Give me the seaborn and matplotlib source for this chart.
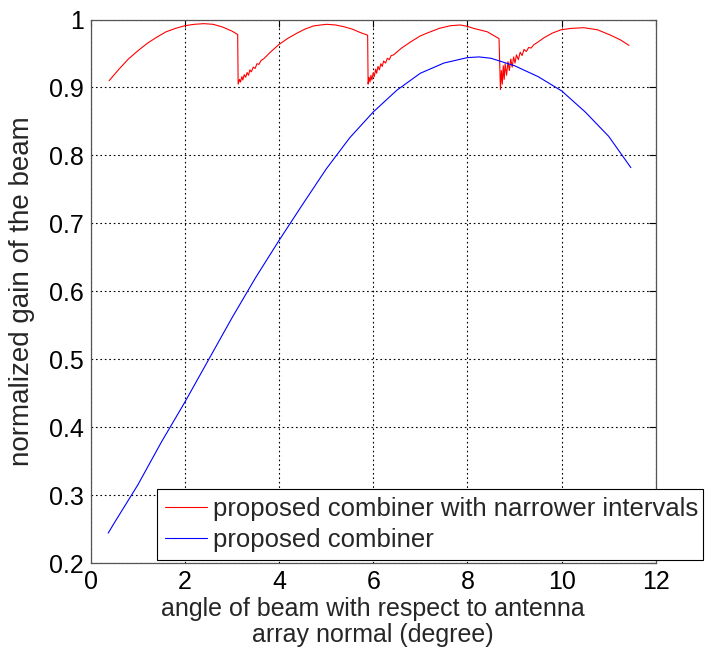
import numpy as np
import pandas as pd
import seaborn as sns
import matplotlib
matplotlib.use("Agg")
import matplotlib.pyplot as plt

# ---- data ----
blue_x = [0.37, 0.5, 1.0, 1.5, 2.0, 2.5, 3.0, 3.5, 4.0, 4.5, 5.0, 5.5, 6.0, 6.5,
          7.0, 7.5, 8.0, 8.25, 8.5, 9.0, 9.5, 10.0, 10.5, 11.0, 11.47]
blue_y = [0.244, 0.259, 0.315, 0.378, 0.437, 0.499, 0.561, 0.620, 0.675, 0.728,
          0.780, 0.826, 0.864, 0.896, 0.921, 0.936, 0.944, 0.945, 0.943, 0.932,
          0.916, 0.895, 0.864, 0.828, 0.782]

red_x = [0.39, 0.6, 0.8, 1.0, 1.2, 1.4, 1.6, 1.8, 2.0, 2.2, 2.4, 2.6, 2.8, 3.0, 3.12,
         3.13, 3.16, 3.18, 3.21, 3.23, 3.26, 3.29, 3.32, 3.35, 3.38, 3.41, 3.45,
         3.49, 3.53, 3.57, 3.62, 3.67, 3.8, 3.99, 4.2, 4.38, 4.55, 4.73, 4.88,
         5.01, 5.2, 5.37, 5.55, 5.72, 5.88,
         5.89, 5.91, 5.93, 5.95, 5.97, 6.0, 6.02, 6.05, 6.07, 6.10, 6.13, 6.16,
         6.19, 6.22, 6.26, 6.30, 6.34, 6.38, 6.43, 6.6, 6.79, 7.0, 7.14, 7.4,
         7.64, 7.85, 8.0, 8.13, 8.42, 8.67,
         8.70, 8.72, 8.74, 8.76, 8.78, 8.80, 8.83, 8.86, 8.89, 8.92, 8.95, 8.98,
         9.01, 9.04, 9.08, 9.12, 9.16, 9.2, 9.25, 9.3, 9.35, 9.41, 9.5, 9.62,
         9.8, 9.99, 10.2, 10.47, 10.76, 11.04, 11.25, 11.43]
red_y = [0.910, 0.927, 0.942, 0.954, 0.965, 0.974, 0.982, 0.987, 0.991, 0.993,
         0.994, 0.993, 0.989, 0.983, 0.978,
         0.905, 0.912, 0.908, 0.916, 0.911, 0.919, 0.915, 0.922, 0.918, 0.926,
         0.923, 0.930, 0.928, 0.935, 0.934, 0.940, 0.942, 0.951, 0.963, 0.973,
         0.980, 0.986, 0.9906, 0.992, 0.993, 0.992, 0.9896, 0.986, 0.981, 0.977,
         0.905, 0.915, 0.908, 0.918, 0.911, 0.922, 0.916, 0.927, 0.921, 0.931,
         0.926, 0.935, 0.931, 0.939, 0.936, 0.943, 0.941, 0.947, 0.948, 0.958,
         0.967, 0.976, 0.980, 0.987, 0.991, 0.992, 0.990, 0.987, 0.982, 0.972,
         0.897, 0.925, 0.905, 0.932, 0.912, 0.935, 0.918, 0.938, 0.925, 0.942,
         0.930, 0.945, 0.936, 0.948, 0.941, 0.952, 0.947, 0.956, 0.953, 0.959,
         0.958, 0.963, 0.967, 0.973, 0.980, 0.985, 0.987, 0.988, 0.985, 0.977,
         0.970, 0.962]

red_label = "proposed combiner with narrower intervals"
blue_label = "proposed combiner"
x_ticks = [0, 2, 4, 6, 8, 10, 12]
y_ticks = [0.2, 0.3, 0.4, 0.5, 0.6, 0.7, 0.8, 0.9, 1.0]
y_tick_labels = ["0.2", "0.3", "0.4", "0.5", "0.6", "0.7", "0.8", "0.9", "1"]

sns.set_style("white")
plt.rcParams['font.family'] = ['Liberation Sans', 'DejaVu Sans']

fig = plt.figure(figsize=(7.09, 6.52), dpi=100)
ax = fig.add_axes([0.128, 0.1365, 0.797, 0.8335])

red_df = pd.DataFrame({"x": red_x, "y": red_y})
blue_df = pd.DataFrame({"x": blue_x, "y": blue_y})
sns.lineplot(data=red_df, x="x", y="y", ax=ax, color=(1, 0, 0), lw=0.8,
             estimator=None, sort=False, label=red_label)
sns.lineplot(data=blue_df, x="x", y="y", ax=ax, color=(0, 0, 1), lw=0.8,
             estimator=None, sort=False, label=blue_label)

ax.set_xlim(0, 12)
ax.set_ylim(0.2, 1.0)
ax.set_xticks(x_ticks)
ax.set_xticklabels([str(t) for t in x_ticks])
ax.set_yticks(y_ticks)
ax.set_yticklabels(y_tick_labels)
ax.grid(True, linestyle=(0, (1.5, 2.5)), color='black', lw=0.8)
ax.tick_params(direction='in', length=5, width=0.8, top=True, right=True,
               labelsize=18, colors='black')
ax.tick_params(axis='x', pad=5)
ax.tick_params(axis='y', pad=5)
for s in ax.spines.values():
    s.set_visible(True)
    s.set_color('#555555')
    s.set_linewidth(0.9)

ax.set_xlabel("angle of beam with respect to antenna\narray normal (degree)",
              fontsize=18, labelpad=2, linespacing=1.12)
ax.set_ylabel("normalized gain of the beam", fontsize=20, labelpad=10)

leg = ax.legend(loc='lower left', bbox_to_anchor=(0.117, 0.0055, 0.966, 0.136),
                mode='expand', fontsize=18.5, frameon=True, fancybox=False,
                edgecolor='black', framealpha=1, handlelength=1.65,
                handletextpad=0.25, borderpad=0.3, labelspacing=0.28,
                borderaxespad=0)
leg.get_frame().set_linewidth(0.8)
leg.set_clip_on(False)

fig.savefig("out.png", dpi=100, facecolor='white')
